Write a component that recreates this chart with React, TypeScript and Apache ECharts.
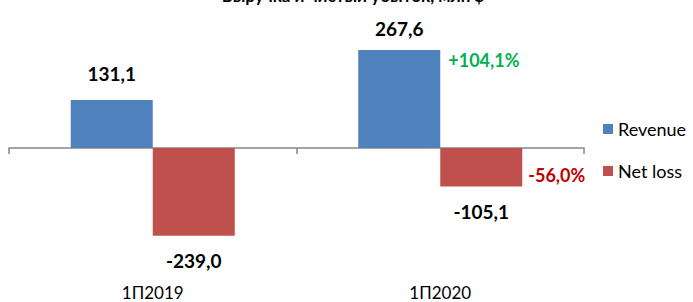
import React, { useEffect, useRef } from "react";
import * as echarts from "echarts";

const titleText = "Выручка и чистый убыток, млн $";
const categories = ["1П2019", "1П2020"];
const revenue = [131.1, 267.6];
const netLoss = [-239.0, -105.1];
const revenueChange = "+104,1%";
const netLossChange = "-56,0%";
const seriesNames = ["Revenue", "Net loss"];

const FONT = "Lato";
const fmt = (v: number) => v.toFixed(1).replace(".", ",");

export default function App() {
  const ref = useRef<HTMLDivElement>(null);
  useEffect(() => {
    document.body.style.margin = "0";
    const chart = echarts.init(ref.current!, undefined, { renderer: "svg" });
    chart.setOption({
      animation: false,
      textStyle: { fontFamily: FONT },
      graphic: [
        {
          type: "text",
          x: 353,
          y: 4,
          style: {
            text: titleText,
            fontFamily: FONT,
            fontWeight: "bold",
            fontSize: 17,
            fill: "#000",
            align: "center",
            verticalAlign: "bottom",
          },
        },
      ],
      legend: {
        orient: "vertical",
        left: 598,
        top: 115,
        itemWidth: 10,
        itemHeight: 10,
        itemGap: 24,
        icon: "rect",
        data: seriesNames,
        textStyle: { fontFamily: FONT, fontSize: 18, color: "#000" },
      },
      grid: { left: 9, right: 109, top: 38, height: 220, containLabel: false },
      xAxis: [
        {
          type: "category",
          data: categories,
          axisLine: { onZero: true, lineStyle: { color: "#868686", width: 1.5 } },
          axisTick: { show: true, length: 6, lineStyle: { color: "#868686", width: 1.5 } },
          axisLabel: { show: false },
        },
        {
          type: "category",
          data: categories,
          position: "bottom",
          axisLine: { show: false, onZero: false },
          axisTick: { show: false },
          axisLabel: { show: true, margin: 26, fontFamily: FONT, fontSize: 17, color: "#000" },
        },
      ],
      yAxis: {
        type: "value",
        min: -300,
        max: 300,
        show: false,
        splitLine: { show: false },
      },
      series: [
        {
          name: seriesNames[0],
          type: "bar",
          barWidth: 82,
          barGap: "0%",
          itemStyle: { color: "#4f81bd" },
          data: revenue.map((v, i) => ({
            value: v,
            label: { distance: i === 1 ? 12 : 17 },
          })),
          label: {
            show: true,
            position: "top",
            formatter: (p: any) => fmt(p.value),
            fontFamily: FONT,
            fontWeight: "bold",
            fontSize: 19,
            color: "#000",
          },
          markPoint: {
            symbol: "rect",
            symbolSize: 0,
            data: [
              {
                coord: [categories[1], revenue[1]],
                label: {
                  show: true,
                  formatter: revenueChange,
                  position: "right",
                  offset: [44, 10],
                  fontFamily: FONT,
                  fontWeight: "bold",
                  fontSize: 18,
                  color: "#00b050",
                },
              },
            ],
          },
        },
        {
          name: seriesNames[1],
          type: "bar",
          barWidth: 82,
          barGap: "0%",
          itemStyle: { color: "#c0504d" },
          data: netLoss,
          label: {
            show: true,
            position: "bottom",
            distance: 15,
            formatter: (p: any) => fmt(p.value),
            fontFamily: FONT,
            fontWeight: "bold",
            fontSize: 19,
            color: "#000",
          },
          markPoint: {
            symbol: "rect",
            symbolSize: 0,
            data: [
              {
                coord: [categories[1], netLoss[1]],
                label: {
                  show: true,
                  formatter: netLossChange,
                  position: "right",
                  offset: [42, -12],
                  fontFamily: FONT,
                  fontWeight: "bold",
                  fontSize: 18,
                  color: "#c00000",
                },
              },
            ],
          },
        },
      ],
    });
    return () => chart.dispose();
  }, []);
  return <div ref={ref} style={{ width: 693, height: 302 }} />;
}
